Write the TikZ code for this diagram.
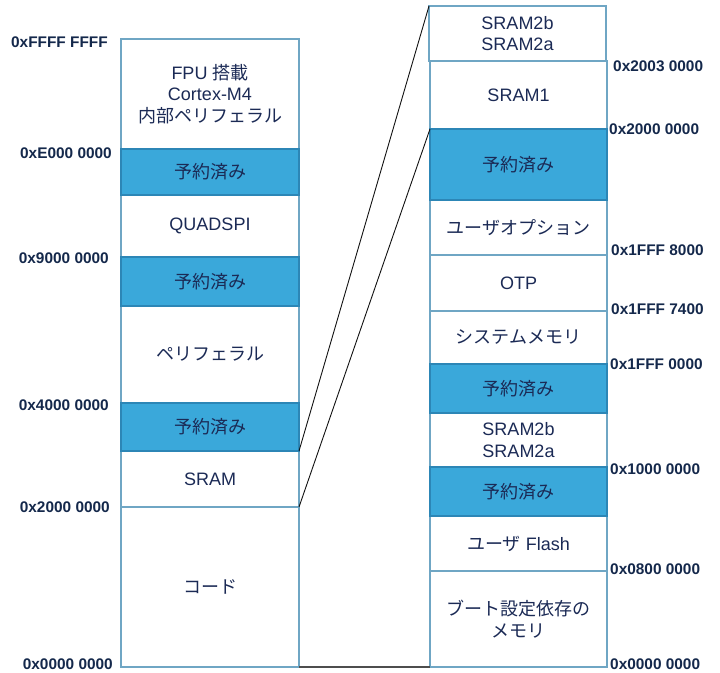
\documentclass[tikz,border=0pt]{standalone}
\usepackage{fontspec}
\setmainfont{Liberation Sans}
\newfontfamily\jp{Noto Sans CJK JP}
\definecolor{txt}{HTML}{1B2A55}
\definecolor{addrc}{HTML}{14284B}
\definecolor{resblue}{HTML}{3AA8DA}
\definecolor{resbord}{HTML}{2C86B6}
\definecolor{bordc}{HTML}{6FA6C4}
\definecolor{linkc}{HTML}{111111}
\definecolor{basec}{HTML}{4D4D4D}
\tikzset{
  mem/.style={draw=bordc, line width=1.1pt, fill=white, text=txt,
    inner sep=0pt, outer sep=0pt, align=center, anchor=north west,
    font=\fontsize{18}{21.5}\selectfont},
  lmem/.style={mem, minimum width=178pt},
  rmem/.style={mem, minimum width=177pt},
  lres/.style={lmem, fill=resblue, draw=resbord},
  rres/.style={rmem, fill=resblue, draw=resbord},
  addr/.style={text=addrc, inner sep=0pt, font=\bfseries\fontsize{15.4}{18}\selectfont},
  link/.style={draw=linkc, line width=0.9pt},
  baseline/.style={draw=basec, line width=2pt}
}
\begin{document}
\begin{tikzpicture}[x=1pt,y=-1pt]
\useasboundingbox (0,0) rectangle (720,672);
% left column
\node[lmem, minimum height=110pt] (fpu) at (121,39) {FPU {\jp 搭載}\\Cortex-M4\\{\jp 内部ペリフェラル}};
\node[lmem, minimum height=62pt] (quadspi) at (121,195) {QUADSPI};
\node[lmem, minimum height=97pt] (periph) at (121,306) {\jp ペリフェラル};
\node[lmem, minimum height=56pt] (sram) at (121,451) {SRAM};
\node[lmem, minimum height=160pt] (code) at (121,507) {\jp コード};
\node[lres, minimum height=46pt] (lres1) at (121,149) {\jp 予約済み};
\node[lres, minimum height=49pt] (lres2) at (121,257) {\jp 予約済み};
\node[lres, minimum height=48pt] (lres3) at (121,403) {\jp 予約済み};
% right column
\node[rmem, minimum height=55pt] (sramtop) at (429,6) {SRAM2b\\SRAM2a};
\node[rmem, minimum height=68pt] (sram1) at (430,61) {SRAM1};
\node[rmem, minimum height=55pt] (useropt) at (430,200) {\jp ユーザオプション};
\node[rmem, minimum height=56pt] (otp) at (430,255) {OTP};
\node[rmem, minimum height=53pt] (sysmem) at (430,311) {\jp システムメモリ};
\node[rmem, minimum height=54pt] (sram2) at (430,413) {SRAM2b\\SRAM2a};
\node[rmem, minimum height=55pt] (uflash) at (430,516) {{\jp ユーザ} Flash};
\node[rmem, minimum height=96pt] (boot) at (430,571) {\jp ブート設定依存の\\\jp メモリ};
\node[rres, minimum height=71pt] (rres1) at (430,129) {\jp 予約済み};
\node[rres, minimum height=49pt] (rres2) at (430,364) {\jp 予約済み};
\node[rres, minimum height=49pt] (rres3) at (430,467) {\jp 予約済み};
% connectors
\draw[link] (sram.north east) -- (sramtop.north west);
\draw[link] (sram.south east) -- (sram1.south west);
\draw[baseline] (code.south east) -- (boot.south west);
% left addresses
\node[addr, anchor=east] (a1) at (108,42) {0xFFFF FFFF};
\node[addr, anchor=east] (a2) at (112,153) {0xE000 0000};
\node[addr, anchor=east] (a3) at (109,258) {0x9000 0000};
\node[addr, anchor=east] (a4) at (109,405) {0x4000 0000};
\node[addr, anchor=east] (a5) at (110,507) {0x2000 0000};
\node[addr, anchor=east] (a6) at (113,664) {0x0000 0000};
% right addresses
\node[addr, anchor=west] (b1) at (613,66) {0x2003 0000};
\node[addr, anchor=west] (b2) at (609,129) {0x2000 0000};
\node[addr, anchor=west] (b3) at (611,250) {0x1FFF 8000};
\node[addr, anchor=west] (b4) at (611,309) {0x1FFF 7400};
\node[addr, anchor=west] (b5) at (610,364) {0x1FFF 0000};
\node[addr, anchor=west] (b6) at (610,469) {0x1000 0000};
\node[addr, anchor=west] (b7) at (610,569) {0x0800 0000};
\node[addr, anchor=west] (b8) at (610,664) {0x0000 0000};
\end{tikzpicture}
\end{document}
